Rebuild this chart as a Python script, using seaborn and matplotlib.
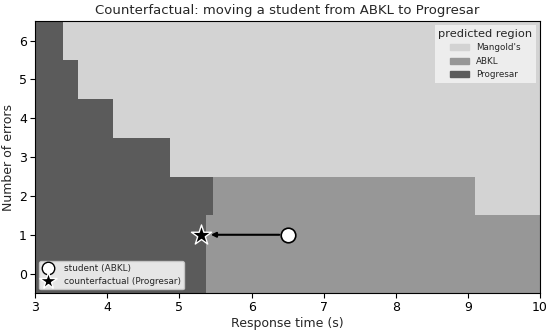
import matplotlib
matplotlib.use("Agg")
import matplotlib.pyplot as plt
from matplotlib.patches import Patch
from matplotlib.lines import Line2D
import seaborn as sns

# number of errors (one row per value)
errors = [0, 1, 2, 3, 4, 5, 6]
# response time where the Progresar region ends in each row
progresarEnd = [5.37, 5.37, 5.46, 4.87, 4.08, 3.59, 3.39]
# response time where the ABKL region ends in each row
abklEnd = [10.0, 10.0, 9.10, 4.87, 4.08, 3.59, 3.39]

regionNames = ["Mangold's", "ABKL", "Progresar"]
regionColors = ["#d3d3d3", "#979797", "#5b5b5b"]

student = (6.5, 1)
counterfactual = (5.3, 1)

xMin, xMax = 3, 10

sns.set_style("ticks")
fig = plt.figure(figsize=(5.5, 3.3), dpi=100)
ax = fig.add_axes([0.064, 0.112, 0.918, 0.824])

# paint the predicted regions row by row
for e, p, a in zip(errors, progresarEnd, abklEnd):
  ax.barh(e, p - xMin, left=xMin, height=1, color=regionColors[2], linewidth=0)
  ax.barh(e, a - p, left=p, height=1, color=regionColors[1], linewidth=0)
  ax.barh(e, xMax - a, left=a, height=1, color=regionColors[0], linewidth=0)

ax.annotate("", xy=counterfactual, xytext=student,
            arrowprops=dict(arrowstyle="-|>", color="black", lw=1.5, shrinkA=6, shrinkB=7, mutation_scale=7))
sns.scatterplot(x=[student[0]], y=[student[1]], marker="o", s=110, color="white",
                edgecolor="black", linewidth=1.2, ax=ax, zorder=5)
sns.scatterplot(x=[counterfactual[0]], y=[counterfactual[1]], marker="*", s=230, color="black",
                edgecolor="white", linewidth=1.0, ax=ax, zorder=5)

ax.set_xlim(xMin, xMax)
ax.set_ylim(-0.5, 6.5)
ax.set_xticks(range(3, 11))
ax.set_yticks(errors)
ax.tick_params(labelsize=9, length=3.5, width=0.8, pad=2.5, color="black", labelcolor="black")
for s in ax.spines.values():
  s.set_color("black")
  s.set_linewidth(0.8)
ax.set_xlabel("Response time (s)", fontsize=9, labelpad=2)
ax.set_ylabel("Number of errors", fontsize=9, labelpad=3)
ax.set_title("Counterfactual: moving a student from ABKL to Progresar", fontsize=9.5, pad=5)

regionHandles = [Patch(color=c, label=n) for n, c in zip(regionNames, regionColors)]
leg1 = ax.legend(handles=regionHandles, title="predicted region", loc="upper right",
                 fontsize=6.3, title_fontsize=8.2, frameon=True, fancybox=False,
                 framealpha=0.6, edgecolor="none", handlelength=2.2, borderaxespad=0.5)
ax.add_artist(leg1)

pointHandles = [
  Line2D([], [], marker="o", color="none", markerfacecolor="white", markeredgecolor="black",
         markersize=9, label="student (ABKL)"),
  Line2D([], [], marker="*", color="none", markerfacecolor="black", markeredgecolor="white",
         markersize=13, label="counterfactual (Progresar)"),
]
ax.legend(handles=pointHandles, loc="lower left", fontsize=6.4, frameon=True, fancybox=True,
          framealpha=0.85, edgecolor="#cccccc", handlelength=1.2, handletextpad=1.2,
          labelspacing=0.4, borderaxespad=0.4)

fig.savefig("out.png", dpi=100)
